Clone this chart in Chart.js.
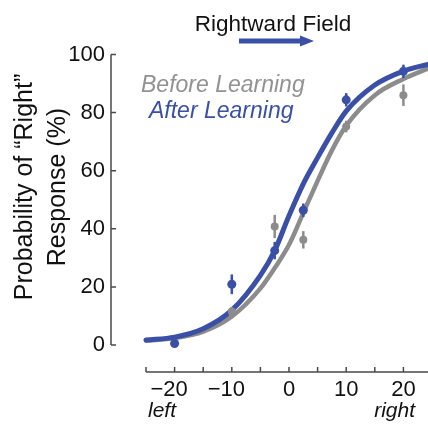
<!DOCTYPE html>
<html>
<head>
<meta charset="utf-8">
<script src="https://cdn.jsdelivr.net/npm/chart.js@4.4.1/dist/chart.umd.min.js"></script>
<style>
  html, body { margin: 0; padding: 0; background: #fff; }
  #wrap { width: 428px; height: 431px; }
</style>
</head>
<body>
<div id="wrap"><canvas id="myChart"></canvas></div>
<script>
// measured points (field strength vs % "right")
const pointX = [-20, -10, -2.5, 2.5, 10, 20];
const afterPoints = [0.5, 20.9, 32.5, 46.4, 84.4, 94.2];
const afterErr = [0, 3.4, 3, 2.3, 2.3, 2.3];
const beforePoints = [null, 11.5, 40.8, 36.2, 75.2, 86.0];
const beforeErr = [0, 1.5, 4, 3, 2, 3.7];

// fitted curves
const curveX = [-25, -20, -15, -10, -5, -2.5, 0, 2.5, 5, 7.5, 10, 15, 20, 24.3];
const afterCurve = [1.7, 2.7, 5.6, 12, 24, 32.5, 44.5, 55.5, 64.5, 73, 80.5, 89.5, 94.3, 96.6];
const beforeCurve = [1.5, 2.4, 4.6, 9.8, 19.5, 26.5, 34.5, 45.5, 56.5, 67, 75.5, 86, 91.6, 95.2];

const xTickValues = [-20, -10, 0, 10, 20];
const xTickLabels = ['\u221220\u2002', '\u221210\u2002', '0', '10', '20'];
const yTickLabels = ['0', '20', '40', '60', '80', '100'];

const BLUE = '#3a4fa6';
const GRAY = '#8c8c8c';
const AXIS = '#4a4a4a';
const FONT = '"Liberation Sans", Arial, Helvetica, sans-serif';

const toXY = (xs, ys) => xs.map((x, i) => ({ x: x, y: ys[i] })).filter(p => p.y !== null);

const errorBars = {
    id: 'errorBars',
    afterDatasetsDraw(chart) {
        const c = chart.ctx, xs = chart.scales.x, ys = chart.scales.y;
        const draw = (vals, errs, color) => {
            c.save();
            c.strokeStyle = color;
            c.lineWidth = 2.5;
            vals.forEach((v, i) => {
                if (v === null || !errs[i]) return;
                const px = xs.getPixelForValue(pointX[i]);
                c.beginPath();
                c.moveTo(px, ys.getPixelForValue(v - errs[i]));
                c.lineTo(px, ys.getPixelForValue(v + errs[i]));
                c.stroke();
            });
            c.restore();
        };
        draw(beforePoints, beforeErr, GRAY);
        draw(afterPoints, afterErr, BLUE);
    }
};

const decor = {
    id: 'decor',
    afterDraw(chart) {
        const c = chart.ctx, xs = chart.scales.x, ys = chart.scales.y;
        const area = chart.chartArea;
        c.save();
        c.strokeStyle = AXIS;
        c.lineWidth = 1.5;

        // y axis, offset to the left, ticks inward
        const yx = area.left - 35;
        c.beginPath();
        c.moveTo(yx, ys.getPixelForValue(100));
        c.lineTo(yx, ys.getPixelForValue(0));
        ys.ticks.forEach(t => {
            const py = ys.getPixelForValue(t.value);
            c.moveTo(yx, py);
            c.lineTo(yx + 5, py);
        });
        c.stroke();

        // x axis, offset below, ticks up
        const xy = area.bottom + 27;
        c.beginPath();
        c.moveTo(xs.getPixelForValue(-25), xy);
        c.lineTo(area.right, xy);
        xs.ticks.forEach(t => {
            const px = xs.getPixelForValue(t.value);
            c.moveTo(px, xy);
            c.lineTo(px, xy - 5);
        });
        c.stroke();

        // left / right
        c.fillStyle = '#111';
        c.font = 'italic 21px ' + FONT;
        c.textBaseline = 'alphabetic';
        c.textAlign = 'left';
        c.fillText('left', xs.getPixelForValue(-25) + 2, 417);
        c.textAlign = 'right';
        c.fillText('right', 415, 417);

        // y title
        c.save();
        c.translate(0, 187);
        c.rotate(-Math.PI / 2);
        c.textAlign = 'center';
        c.textBaseline = 'middle';
        c.font = '25px ' + FONT;
        c.fillText('Probability of \u201cRight\u201d', 0, 25);
        c.fillText('Response (%)', 0, 58);
        c.restore();

        // header
        c.textAlign = 'center';
        c.textBaseline = 'alphabetic';
        c.font = '22.5px ' + FONT;
        c.fillStyle = '#111';
        c.fillText('Rightward Field', 273, 31);

        // arrow
        c.fillStyle = BLUE;
        c.fillRect(239, 38.5, 62, 5);
        c.beginPath();
        c.moveTo(300, 35.5);
        c.lineTo(314, 41);
        c.lineTo(300, 46.5);
        c.closePath();
        c.fill();

        // legend text
        c.textAlign = 'left';
        c.font = 'italic 300 23px ' + FONT;
        c.fillStyle = '#929292';
        c.fillText('Before Learning', 141, 92);
        c.fillStyle = BLUE;
        c.fillText('After Learning', 149, 118);

        c.restore();
    }
};

const ctx = document.getElementById('myChart').getContext('2d');
const chart = new Chart(ctx, {
    type: 'scatter',
    data: {
        datasets: [
            { label: 'After points', data: toXY(pointX, afterPoints), backgroundColor: BLUE, borderColor: BLUE, pointRadius: 4.5, borderWidth: 0, clip: false },
            { label: 'Before points', data: toXY(pointX, beforePoints), backgroundColor: GRAY, borderColor: GRAY, pointRadius: 4, borderWidth: 0, clip: false },
            { label: 'After fit', data: toXY(curveX, afterCurve), showLine: true, borderColor: BLUE, borderWidth: 5, pointRadius: 0, cubicInterpolationMode: 'monotone', borderCapStyle: 'round', clip: false },
            { label: 'Before fit', data: toXY(curveX, beforeCurve), showLine: true, borderColor: GRAY, borderWidth: 4.5, pointRadius: 0, cubicInterpolationMode: 'monotone', borderCapStyle: 'round', clip: false }
        ]
    },
    options: {
        responsive: true,
        maintainAspectRatio: false,
        animation: false,
        layout: { autoPadding: false, padding: { top: 54.5, right: 0, bottom: 0, left: 0 } },
        plugins: { legend: { display: false }, tooltip: { enabled: false } },
        scales: {
            x: {
                type: 'linear',
                min: -25,
                max: 24.3,
                border: { display: false },
                grid: { display: false, drawTicks: false },
                afterFit: s => { s.height = 86; s.paddingLeft = 0; s.paddingRight = 0; },
                ticks: {
                    stepSize: 5,
                    includeBounds: false,
                    padding: 32,
                    maxRotation: 0,
                    autoSkip: false,
                    color: '#111',
                    font: { family: FONT, size: 22 },
                    callback: v => {
                        const i = xTickValues.indexOf(v);
                        return i < 0 ? '' : xTickLabels[i];
                    }
                }
            },
            y: {
                min: 0,
                max: 100,
                border: { display: false },
                grid: { display: false, drawTicks: false },
                afterFit: s => { s.width = 146; s.paddingTop = 0; s.paddingBottom = 0; },
                ticks: {
                    stepSize: 20,
                    padding: 41,
                    color: '#111',
                    font: { family: FONT, size: 22 },
                    callback: v => yTickLabels[v / 20]
                }
            }
        }
    },
    plugins: [errorBars, decor]
});
</script>
</body>
</html>
